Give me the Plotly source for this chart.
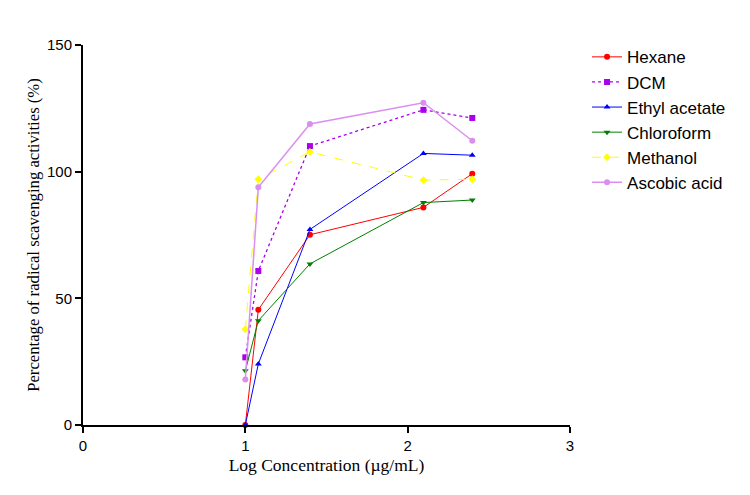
import plotly.graph_objects as go

x_vals = [1.0, 1.08, 1.398, 2.097, 2.398]
hexane = [0.0, 45.5, 75.1, 85.9, 99.2]
dcm = [26.7, 60.8, 110.1, 124.4, 121.2]
ethyl = [0.0, 24.1, 77.2, 107.2, 106.5]
chloroform = [21.4, 41.2, 63.6, 87.8, 88.8]
methanol = [37.8, 97.0, 107.8, 96.7, 97.0]
ascorbic = [18.0, 93.8, 118.8, 127.2, 112.2]

series = [
    ("Hexane", hexane, "#FF0000", "solid", "circle", 1),
    ("DCM", dcm, "#AA00EE", "dot", "square", 1.3),
    ("Ethyl acetate", ethyl, "#0000FF", "solid", "triangle-up", 1),
    ("Chloroform", chloroform, "#008000", "solid", "triangle-down", 1),
    ("Methanol", methanol, "#FFFF00", "dash", "diamond", 1),
    ("Ascobic acid", ascorbic, "#DA8FF0", "solid", "circle", 1.5),
]

fig = go.Figure()
for name, ys, color, dash, sym, w in series:
    fig.add_trace(go.Scatter(
        x=x_vals, y=ys, name=name, mode="lines+markers",
        line=dict(color=color, width=w, dash=dash),
        marker=dict(color=color, symbol=sym, size=6),
        cliponaxis=False,
    ))

fig.update_layout(
    width=750, height=495,
    margin=dict(l=83, r=180, t=45, b=70),
    paper_bgcolor="white", plot_bgcolor="white",
    font=dict(family="Liberation Sans, Arial", size=15, color="#000"),
    showlegend=True,
    legend=dict(x=1.035, y=1.015, xanchor="left", yanchor="top",
                font=dict(family="Liberation Sans, Arial", size=17, color="#000"),
                tracegroupgap=0, itemwidth=30),
    xaxis=dict(range=[0, 3], tickvals=[0, 1, 2, 3], showgrid=False, zeroline=False,
               showline=True, linecolor="black", linewidth=2,
               ticks="outside", ticklen=6, tickwidth=2, tickcolor="black",
               title=dict(text="Log Concentration (µg/mL)",
                          font=dict(family="Liberation Serif, Times New Roman", size=17.5, color="#000"),
                          standoff=6)),
    yaxis=dict(range=[0, 150], tickvals=[0, 50, 100, 150], showgrid=False, zeroline=False,
               showline=True, linecolor="black", linewidth=2,
               ticks="outside", ticklen=6, tickwidth=2, tickcolor="black",
               title=dict(text="Percentage of radical scavenging activities (%)",
                          font=dict(family="Liberation Serif, Times New Roman", size=16.7, color="#000"),
                          standoff=3)),
)

fig.write_html("out.html")
